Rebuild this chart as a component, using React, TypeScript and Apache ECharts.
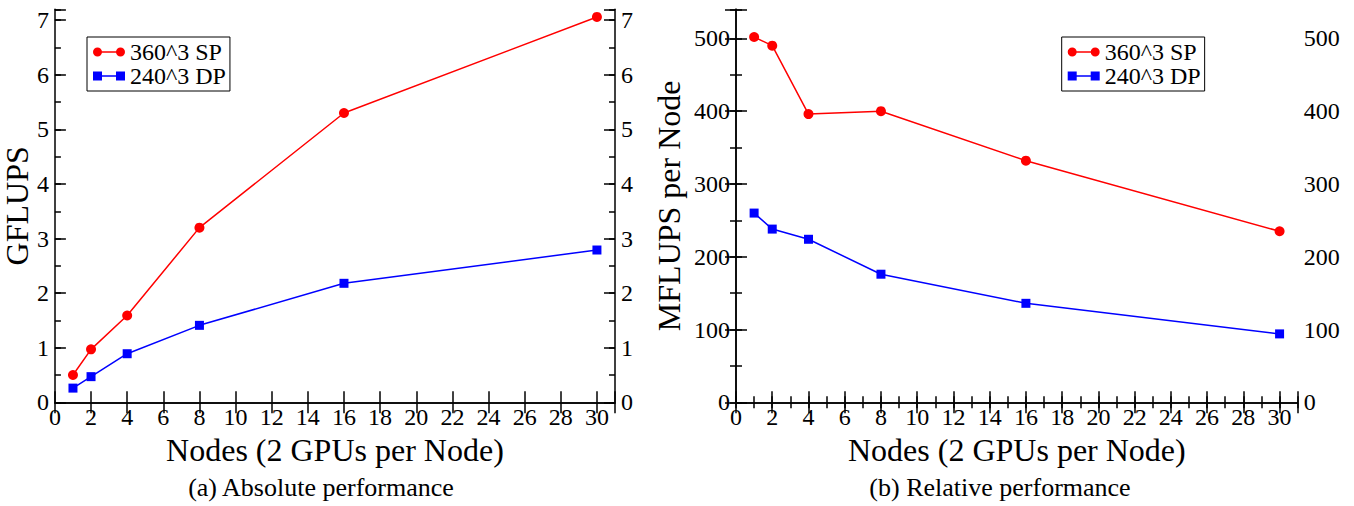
import React, { useEffect, useRef } from "react";
import * as echarts from "echarts";

const nodes = [1, 2, 4, 8, 16, 30];
const absSP = [0.5, 0.97, 1.59, 3.2, 5.3, 7.06];
const absDP = [0.26, 0.47, 0.89, 1.41, 2.18, 2.79];
const relSP = [502, 490, 396, 400, 332, 235];
const relDP = [260, 238, 224, 176, 136, 94];
const seriesNames = ["360^3 SP", "240^3 DP"];
const xTitle = "Nodes (2 GPUs per Node)";
const yTitleA = "GFLUPS";
const yTitleB = "MFLUPS per Node";
const captions = ["(a) Absolute performance", "(b) Relative performance"];

const FONT = "Liberation Serif";
const RED = "#ff0000";
const BLUE = "#0000ff";

const circIcon =
  "path://M0,4.5 A4.5,4.5 0 1 1 9,4.5 A4.5,4.5 0 1 1 0,4.5 Z M23,4.5 A4.5,4.5 0 1 1 32,4.5 A4.5,4.5 0 1 1 23,4.5 Z M4,3.75 L28,3.75 L28,5.25 L4,5.25 Z";
const sqIcon =
  "path://M0,0 L9,0 L9,9 L0,9 Z M23,0 L32,0 L32,9 L23,9 Z M4,3.75 L28,3.75 L28,5.25 L4,5.25 Z";

const zip = (xs: number[], ys: number[]) => xs.map((x, i) => [x, ys[i]]);

export default function App() {
  const ref = useRef<HTMLDivElement>(null);
  useEffect(() => {
    if (!ref.current) return;
    const chart = echarts.init(ref.current, undefined, { renderer: "svg" });

    const axisLine = { show: true, lineStyle: { color: "#000", width: 1.5 } };
    const labelStyle = { fontFamily: FONT, fontSize: 24, color: "#000" };
    const nameStyle = { fontFamily: FONT, fontSize: 32, color: "#000" };

    const xMajor = (grid: number, pos: "top" | "bottom", labels: boolean) => ({
      type: "value",
      gridIndex: grid,
      position: pos,
      min: 0,
      max: 31,
      interval: 2,
      axisLine,
      splitLine: { show: false },
      axisTick: { show: true, inside: true, length: 11, lineStyle: { color: "#000", width: 1.5 } },
      axisLabel: labels
        ? { show: true, margin: 3, ...labelStyle, formatter: (v: number) => (v % 2 === 0 ? String(v) : "") }
        : { show: false },
      name: labels ? xTitle : "",
      nameLocation: "middle",
      nameGap: 24,
      nameTextStyle: nameStyle,
    });
    const xMinor = (grid: number, pos: "top" | "bottom") => ({
      type: "value",
      gridIndex: grid,
      position: pos,
      min: 0,
      max: 31,
      interval: 1,
      axisLine: { show: false },
      splitLine: { show: false },
      axisTick: { show: true, inside: true, length: 6, lineStyle: { color: "#000", width: 1.5 } },
      axisLabel: { show: false },
    });
    const yMajor = (
      grid: number,
      pos: "left" | "right",
      max: number,
      interval: number,
      name: string,
      nameGap: number
    ) => ({
      type: "value",
      gridIndex: grid,
      position: pos,
      min: 0,
      max,
      interval,
      axisLine,
      splitLine: { show: false },
      axisTick: { show: true, inside: true, length: 11, lineStyle: { color: "#000", width: 1.5 } },
      axisLabel: {
        show: true,
        margin: 6,
        ...labelStyle,
        formatter: (v: number) => (Math.abs(v / interval - Math.round(v / interval)) < 1e-6 ? String(v) : ""),
      },
      name,
      nameLocation: "middle",
      nameGap,
      nameTextStyle: nameStyle,
    });
    const yMinor = (grid: number, pos: "left" | "right", max: number, interval: number) => ({
      type: "value",
      gridIndex: grid,
      position: pos,
      min: 0,
      max,
      interval,
      axisLine: { show: false },
      splitLine: { show: false },
      axisTick: { show: true, inside: true, length: 6, lineStyle: { color: "#000", width: 1.5 } },
      axisLabel: { show: false },
    });

    const legendCommon = {
      orient: "vertical",
      top: 37,
      itemWidth: 32,
      itemHeight: 9,
      itemGap: 0,
      padding: [3, 4, 3, 6],
      borderColor: "#000",
      borderWidth: 1,
      backgroundColor: "#fff",
      itemStyle: { borderWidth: 0 },
      textStyle: { fontFamily: FONT, fontSize: 24, color: "#000", lineHeight: 23 },
      data: [
        { name: seriesNames[0], icon: circIcon },
        { name: seriesNames[1], icon: sqIcon },
      ],
      selectedMode: false,
    };

    const mkSeries = (name: string, data: number[][], color: string, symbol: string, size: number, xi: number, yi: number) => ({
      type: "line",
      name,
      data,
      xAxisIndex: xi,
      yAxisIndex: yi,
      symbol,
      symbolSize: size,
      showSymbol: true,
      color,
      lineStyle: { color, width: 1.5 },
      itemStyle: { color, borderWidth: 0 },
      z: 3,
    });

    chart.setOption({
      animation: false,
      backgroundColor: "#fff",
      grid: [
        { left: 53.3, top: 9.3, width: 561.7, height: 393, containLabel: false },
        { left: 736, top: 9.3, width: 561.7, height: 393, containLabel: false },
      ],
      xAxis: [
        xMajor(0, "bottom", true),
        xMajor(0, "top", false),
        xMajor(1, "bottom", true),
        xMinor(1, "bottom"),
        xMajor(1, "top", false),
        xMinor(1, "top"),
      ],
      yAxis: [
        yMajor(0, "left", 7.2, 1, yTitleA, 17),
        yMinor(0, "left", 7.2, 0.5),
        yMajor(0, "right", 7.2, 1, "", 0),
        yMinor(0, "right", 7.2, 0.5),
        yMajor(1, "left", 540, 100, yTitleB, 51),
        yMinor(1, "left", 540, 50),
        yMajor(1, "right", 540, 100, "", 0),
        yMinor(1, "right", 540, 50),
      ],
      legend: [
        { ...legendCommon, left: 87 },
        { ...legendCommon, left: 1061.7 },
      ],
      series: [
        mkSeries(seriesNames[0], zip(nodes, absSP), RED, "circle", 10, 0, 0),
        mkSeries(seriesNames[1], zip(nodes, absDP), BLUE, "rect", 9, 0, 0),
        mkSeries(seriesNames[0], zip(nodes, relSP), RED, "circle", 10, 2, 4),
        mkSeries(seriesNames[1], zip(nodes, relDP), BLUE, "rect", 9, 2, 4),
      ],
      graphic: [
        {
          type: "text",
          x: 321,
          y: 487,
          style: {
            text: captions[0],
            fontFamily: FONT,
            fontSize: 26,
            fill: "#000",
            textAlign: "center",
            textVerticalAlign: "middle",
          },
        },
        {
          type: "text",
          x: 1000,
          y: 487,
          style: {
            text: captions[1],
            fontFamily: FONT,
            fontSize: 26,
            fill: "#000",
            textAlign: "center",
            textVerticalAlign: "middle",
          },
        },
      ],
    });
    return () => chart.dispose();
  }, []);
  return (
    <div
      ref={ref}
      style={{ position: "fixed", left: 0, top: 0, width: 1354, height: 506, background: "#fff" }}
    />
  );
}
